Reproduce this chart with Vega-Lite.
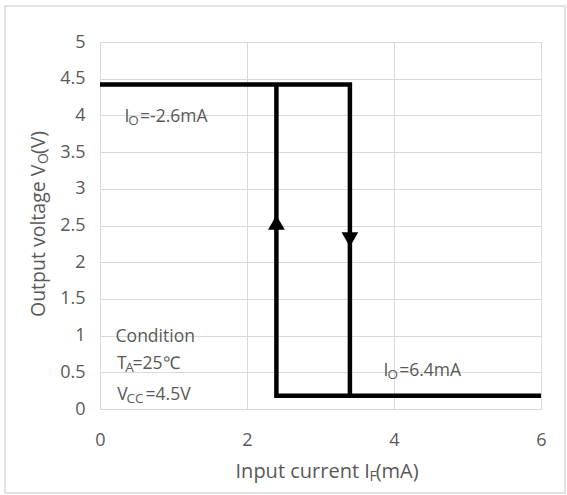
{
  "$schema": "https://vega.github.io/schema/vega-lite/v6.json",
  "width": 441,
  "height": 367,
  "autosize": {"type": "none"},
  "padding": {"left": 100, "top": 42, "right": 26, "bottom": 86},
  "background": "white",
  "config": {
    "view": {"stroke": null},
    "font": "Open Sans",
    "axis": {
      "labelFont": "Open Sans",
      "labelColor": "#595959",
      "labelFontSize": 18,
      "grid": true,
      "gridColor": "#d9d9d9",
      "gridWidth": 1,
      "domain": false,
      "ticks": false,
      "labelFlush": false,
      "labelOverlap": false
    }
  },
  "resolve": {"axis": {"x": "independent", "y": "independent"}},
  "datasets": {
    "curve": [
      {"path": "a", "order": 1, "x": 0, "y": 4.42},
      {"path": "a", "order": 2, "x": 3.4, "y": 4.42},
      {"path": "a", "order": 3, "x": 3.4, "y": 0.18},
      {"path": "a", "order": 4, "x": 6, "y": 0.18},
      {"path": "b", "order": 1, "x": 3.4, "y": 0.18},
      {"path": "b", "order": 2, "x": 2.4, "y": 0.18},
      {"path": "b", "order": 3, "x": 2.4, "y": 4.42}
    ],
    "arrows": [
      {"x": 2.4, "y": 2.54, "direction": "up"},
      {"x": 3.4, "y": 2.31, "direction": "down"}
    ],
    "annot": [
      {"x": 0.332, "y": 3.906, "text": "I"},
      {"x": 0.545, "y": 3.906, "text": "=-2.6mA"},
      {"x": 3.856, "y": 0.45, "text": "I"},
      {"x": 4.07, "y": 0.45, "text": "=6.4mA"},
      {"x": 0.212, "y": 0.917, "text": "Condition"},
      {"x": 0.231, "y": 0.541, "text": "T"},
      {"x": 0.442, "y": 0.541, "text": "=25℃"},
      {"x": 0.236, "y": 0.123, "text": "V"},
      {"x": 0.62, "y": 0.123, "text": "=4.5V"}
    ],
    "annotSub": [
      {"x": 0.385, "y": 3.906, "text": "O"},
      {"x": 3.91, "y": 0.45, "text": "O"},
      {"x": 0.345, "y": 0.541, "text": "A"},
      {"x": 0.36, "y": 0.123, "text": "CC"}
    ],
    "xTitle": [
      {"x": 1.844, "y": -0.936, "text": "Input current I"},
      {"x": 3.751, "y": -0.936, "text": "(mA)"}
    ],
    "xTitleSub": [
      {"x": 3.665, "y": -0.936, "text": "F"}
    ],
    "yTitle": [
      {"x": -0.748, "y": 1.253, "text": "Output voltage V"},
      {"x": -0.748, "y": 3.474, "text": "(V)"}
    ],
    "yTitleSub": [
      {"x": -0.748, "y": 3.338, "text": "O"}
    ]
  },
  "layer": [
    {
      "data": {"name": "curve"},
      "mark": {"type": "line", "color": "black", "strokeWidth": 4.5, "strokeJoin": "miter", "strokeCap": "butt"},
      "encoding": {
        "x": {"field": "x", "type": "quantitative", "scale": {"domain": [0, 6], "nice": false, "zero": false}, "axis": {"values": [0, 2, 4, 6], "format": "~g", "title": null, "labelPadding": 22, "grid": true}},
        "y": {"field": "y", "type": "quantitative", "scale": {"domain": [0, 5], "nice": false, "zero": false}, "axis": {"values": [0, 0.5, 1, 1.5, 2, 2.5, 3, 3.5, 4, 4.5, 5], "format": "~g", "title": null, "labelPadding": 15, "grid": true}},
        "detail": {"field": "path"},
        "order": {"field": "order", "type": "quantitative"}
      }
    },
    {
      "data": {"values": [{}]},
      "mark": {"type": "rect", "fill": null, "stroke": "#d9d9d9", "strokeWidth": 1.5},
      "encoding": {
        "x": {"datum": -1.293, "type": "quantitative", "axis": null},
        "x2": {"datum": 6.327},
        "y": {"datum": 5.49, "type": "quantitative", "axis": null},
        "y2": {"datum": -1.144}
      }
    },
    {
      "data": {"name": "arrows"},
      "mark": {"type": "point", "filled": true, "color": "black", "size": 280, "opacity": 1},
      "encoding": {
        "x": {"field": "x", "type": "quantitative", "axis": null},
        "y": {"field": "y", "type": "quantitative", "axis": null},
        "shape": {"field": "direction", "type": "nominal", "scale": {"domain": ["up", "down"], "range": ["triangle-up", "triangle-down"]}, "legend": null}
      }
    },
    {
      "data": {"name": "annot"},
      "mark": {"type": "text", "align": "left", "baseline": "alphabetic", "fontSize": 17.5, "color": "#595959", "font": "Open Sans"},
      "encoding": {
        "x": {"field": "x", "type": "quantitative", "axis": null},
        "y": {"field": "y", "type": "quantitative", "axis": null},
        "text": {"field": "text"}
      }
    },
    {
      "data": {"name": "annotSub"},
      "mark": {"type": "text", "align": "left", "baseline": "alphabetic", "fontSize": 13.5, "dy": 3, "color": "#595959", "font": "Open Sans"},
      "encoding": {
        "x": {"field": "x", "type": "quantitative", "axis": null},
        "y": {"field": "y", "type": "quantitative", "axis": null},
        "text": {"field": "text"}
      }
    },
    {
      "data": {"name": "xTitle"},
      "mark": {"type": "text", "align": "left", "baseline": "alphabetic", "fontSize": 20, "color": "#595959", "font": "Open Sans"},
      "encoding": {
        "x": {"field": "x", "type": "quantitative", "axis": null},
        "y": {"field": "y", "type": "quantitative", "axis": null},
        "text": {"field": "text"}
      }
    },
    {
      "data": {"name": "xTitleSub"},
      "mark": {"type": "text", "align": "left", "baseline": "alphabetic", "fontSize": 14, "dy": 3, "color": "#595959", "font": "Open Sans"},
      "encoding": {
        "x": {"field": "x", "type": "quantitative", "axis": null},
        "y": {"field": "y", "type": "quantitative", "axis": null},
        "text": {"field": "text"}
      }
    },
    {
      "data": {"name": "yTitle"},
      "mark": {"type": "text", "align": "left", "baseline": "alphabetic", "angle": 270, "fontSize": 19.5, "color": "#595959", "font": "Open Sans"},
      "encoding": {
        "x": {"field": "x", "type": "quantitative", "axis": null},
        "y": {"field": "y", "type": "quantitative", "axis": null},
        "text": {"field": "text"}
      }
    },
    {
      "data": {"name": "yTitleSub"},
      "mark": {"type": "text", "align": "left", "baseline": "alphabetic", "angle": 270, "fontSize": 14, "dy": 3, "color": "#595959", "font": "Open Sans"},
      "encoding": {
        "x": {"field": "x", "type": "quantitative", "axis": null},
        "y": {"field": "y", "type": "quantitative", "axis": null},
        "text": {"field": "text"}
      }
    }
  ]
}
